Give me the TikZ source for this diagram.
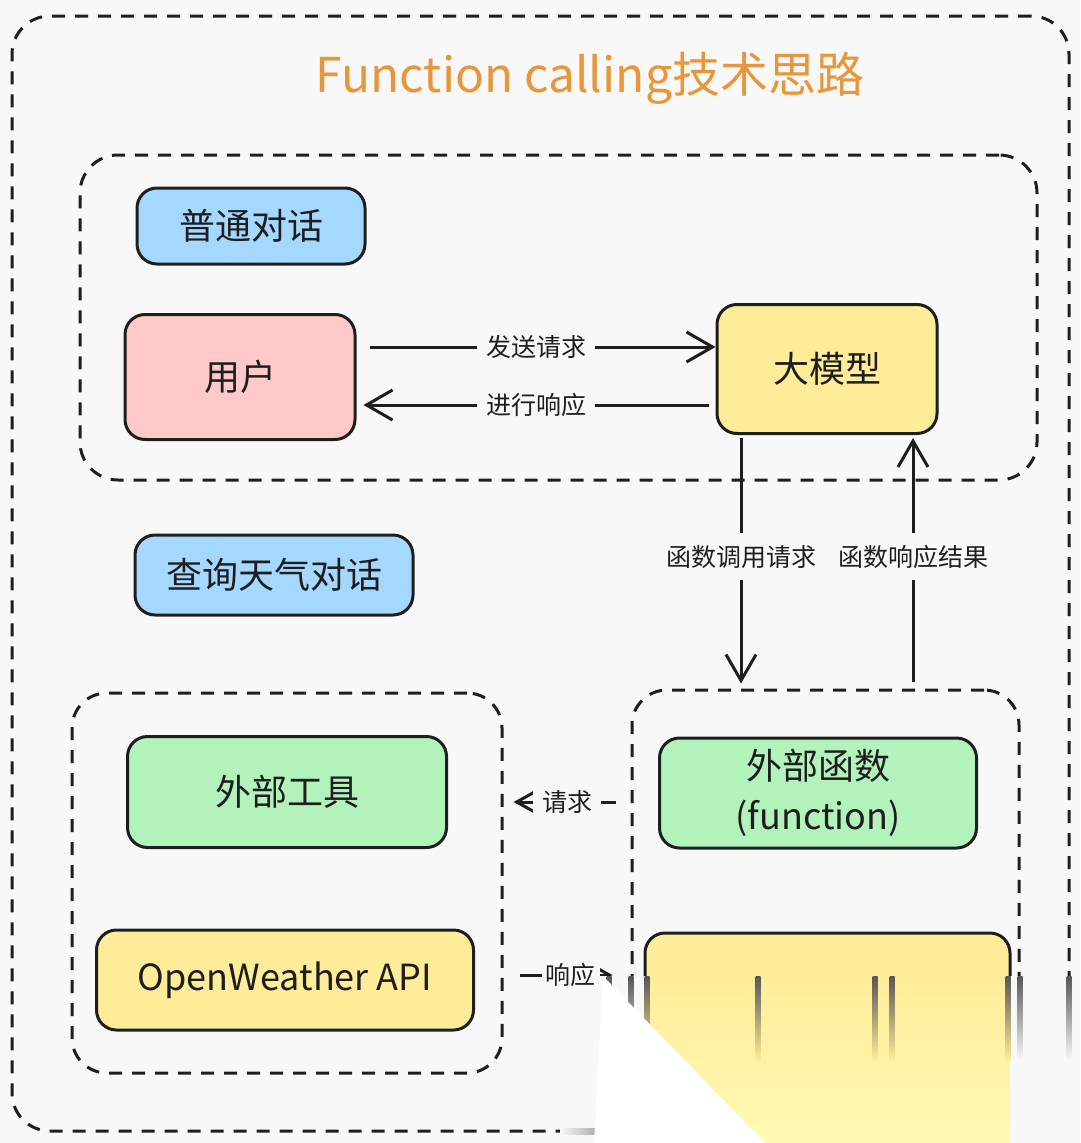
\documentclass[tikz,border=0pt]{standalone}
\usepackage{fontspec}
\setmainfont{Noto Sans CJK SC}
\usetikzlibrary{arrows.meta}
\definecolor{bg}{HTML}{F8F8F8}
\definecolor{ink}{HTML}{1E1E1E}
\definecolor{cblue}{HTML}{A5D8FF}
\definecolor{cpink}{HTML}{FFC9C9}
\definecolor{cyel}{HTML}{FFEC99}
\definecolor{cyel2}{HTML}{FFF9B4}
\definecolor{cgreen}{HTML}{B2F2BB}
\definecolor{corange}{HTML}{E8963C}
\begin{document}
\begin{tikzpicture}[x=1pt,y=-1pt,
 box/.style={draw=ink, line width=3pt, rounded corners=20pt, inner sep=0pt, text=ink,
   font=\fontsize{36}{50}\selectfont, align=center},
 cont/.style={draw=ink, line width=3pt, dash pattern=on 13pt off 10pt, rounded corners=38pt, inner sep=0pt},
 arr/.style={draw=ink, line width=3pt, -{Straight Barb[length=26pt,width=30pt]}},
 arrsm/.style={draw=ink, line width=3pt, -{Straight Barb[length=18pt,width=20pt]}},
 lbl/.style={fill=bg, text=ink, font=\fontsize{25}{30}\selectfont, inner xsep=9pt, inner ysep=12pt}]

\fill[bg] (0,0) rectangle (1080,1143);
\useasboundingbox (0,0) rectangle (1080,1143);

% containers
\node[cont, minimum width=1057pt, minimum height=1115pt] (outer) at (540.5,573.5) {};
\node[cont, minimum width=957pt, minimum height=325pt] (top) at (558.5,317.5) {};
\node[cont, rounded corners=35pt, minimum width=430pt, minimum height=380pt] (bl) at (287,883) {};
\node[cont, rounded corners=35pt, minimum width=387pt, minimum height=410pt] (br) at (825.5,895) {};

% title
\node[text=corange, font=\fontsize{48}{56}\selectfont] (title) at (590,78) {Function calling技术思路};

% boxes
\node[box, fill=cblue, minimum width=228pt, minimum height=76pt] (pt) at (251,226) {普通对话};
\node[box, fill=cpink, minimum width=230pt, minimum height=125pt] (user) at (240,377) {用户};
\node[box, fill=cyel, minimum width=220pt, minimum height=129pt] (llm) at (827,369) {大模型};
\node[box, fill=cblue, minimum width=278pt, minimum height=80pt] (query) at (274,575) {查询天气对话};
\node[box, fill=cgreen, minimum width=319pt, minimum height=111pt] (tool) at (287,792) {外部工具};
\node[box, fill=cyel, minimum width=377pt, minimum height=100pt] (ow) at (285,980) {OpenWeather API};
\node[box, fill=cgreen, minimum width=317pt, minimum height=110pt] (func) at (818,793) {外部函数\\(function)};
\node[box, fill=cyel, minimum width=365pt, minimum height=134pt] (res) at (827.5,1000) {};

% connectors
\draw[arr, shorten <=13pt] ([yshift=30pt]user.east) -- node[lbl]{发送请求} ([yshift=22pt]llm.west);
\draw[arr, shorten <=7pt, shorten >=7pt] ([yshift=-36pt]llm.west) -- node[lbl]{进行响应} ([yshift=-28pt]user.east);
\draw[arr, shorten <=3pt, shorten >=5pt] ([xshift=-86pt]llm.south) -- node[lbl, pos=0.48]{函数调用请求} ([xshift=-84.5pt]br.north);
\draw[arr, shorten <=7pt, shorten >=3pt] ([xshift=87.5pt]br.north) -- node[lbl, pos=0.52]{函数响应结果} ([xshift=86pt]llm.south);
\draw[arrsm, shorten <=15pt, shorten >=10pt] ([yshift=93pt]br.west) -- node[lbl]{请求} ([yshift=81pt]bl.east);
\draw[arrsm, shorten <=16pt, shorten >=18pt] ([yshift=-92pt]bl.east) -- node[lbl, pos=0.53, inner xsep=4pt]{响应} ([yshift=-80pt]br.west);

% smeared page-curl corner
\begin{scope}
\clip (600,976) rectangle (1080,1143);
\fill[bg] (600,976) rectangle (1080,1143);
\shade[top color=cyel, bottom color=cyel2] (645,976) rectangle (1010,1143);
\foreach \sx/\cc in {609/bg, 631/bg, 647/cyel, 758/cyel, 875/cyel, 892/cyel, 1008/cyel, 1020/bg, 1069/bg}{
  \shade[top color=ink!75, bottom color=\cc] (\sx-2.5,976) rectangle (\sx+2.5,1060);
}
\end{scope}
\shade[left color=bg, right color=ink!40] (560,1128) rectangle (600,1134);
\fill[white] (603,976) -- (765,1143) -- (594,1143) -- cycle;
\end{tikzpicture}
\end{document}
